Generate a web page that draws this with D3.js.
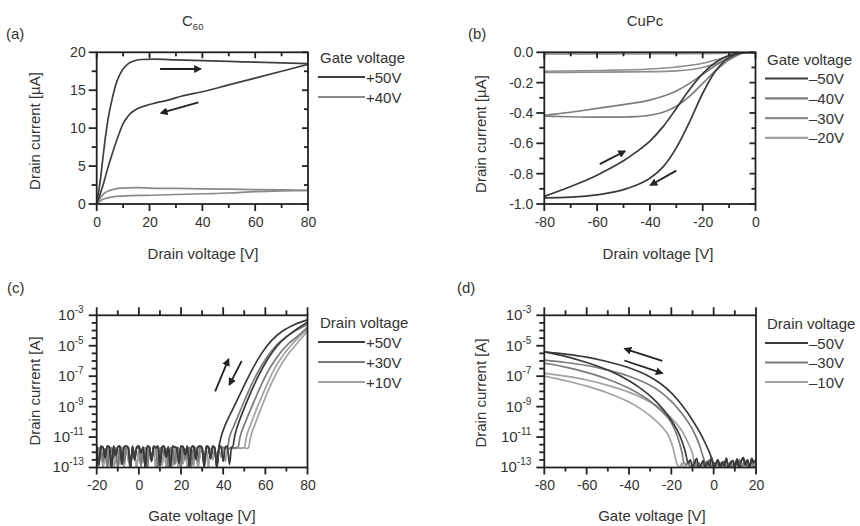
<!DOCTYPE html>
<html>
<head>
<meta charset="utf-8">
<script src="https://cdnjs.cloudflare.com/ajax/libs/d3/7.8.5/d3.min.js"></script>
<style>
  body { margin: 0; background: #fff; }
  svg text { font-family: "Liberation Sans", Arial, Helvetica, sans-serif; fill: #333; }
</style>
</head>
<body>
<svg id="chart" width="860" height="526"></svg>
<script>
// ---- (a) C60 output curves, drain current in uA vs drain voltage ----
const a50Fwd = [[0,0],[0.7,1.5],[1.5,3.5],[2.5,6.5],[3.5,9.3],[4.5,11.6],[5.5,13.3],[6.5,14.8],[7.5,16.0],[8.5,16.9],[10,17.8],[12,18.5],[14,18.85],[17,19.05],[22,19.1],[30,19.0],[40,18.9],[50,18.8],[60,18.7],[70,18.6],[80,18.5]];
const a50Rev = [[0,0],[1,1.0],[2.5,2.6],[4,4.5],[5.5,6.2],[7,7.8],[8.5,9.3],[10,10.6],[11.5,11.4],[13,12.0],[15,12.5],[18,12.9],[22,13.3],[27,13.7],[32,14.2],[40,14.8],[50,15.7],[60,16.6],[70,17.5],[80,18.4]];
const a40Fwd = [[0,0],[1,0.6],[2,1.1],[3,1.45],[5,1.8],[7,2.0],[10,2.1],[15,2.15],[20,2.1],[30,2.05],[40,2.0],[50,1.95],[60,1.9],[70,1.85],[80,1.8]];
const a40Rev = [[0,0],[1,0.3],[2,0.55],[4,0.8],[6,0.95],[10,1.05],[20,1.15],[30,1.25],[40,1.35],[50,1.45],[60,1.62],[70,1.72],[80,1.78]];
const arrowsA = [[[24,17.8],[39.3,17.8]], [[38.5,13.4],[24.4,12.0]]];

// ---- (b) CuPc output curves ----
const b50Up   = [[-80,-0.95],[-70,-0.885],[-60,-0.81],[-55,-0.765],[-50,-0.715],[-45,-0.655],[-40,-0.585],[-35,-0.49],[-30,-0.37],[-25,-0.245],[-20,-0.14],[-15,-0.065],[-10,-0.02],[-6,-0.004],[-4,0],[0,0]];
const b50Down = [[-80,-0.96],[-70,-0.955],[-60,-0.94],[-55,-0.925],[-50,-0.905],[-45,-0.875],[-40,-0.83],[-35,-0.755],[-30,-0.63],[-25,-0.46],[-20,-0.27],[-15,-0.12],[-10,-0.035],[-6,-0.006],[-4,0],[0,0]];
const b40Up   = [[-80,-0.415],[-70,-0.395],[-60,-0.37],[-50,-0.345],[-40,-0.315],[-35,-0.29],[-30,-0.255],[-25,-0.205],[-20,-0.145],[-15,-0.085],[-10,-0.035],[-6,-0.008],[-4,0],[0,0]];
const b40Down = [[-80,-0.42],[-70,-0.425],[-60,-0.427],[-50,-0.427],[-45,-0.424],[-40,-0.415],[-35,-0.395],[-30,-0.355],[-25,-0.29],[-20,-0.205],[-15,-0.12],[-10,-0.05],[-6,-0.012],[-4,0],[0,0]];
const b30Up   = [[-80,-0.125],[-60,-0.12],[-40,-0.11],[-30,-0.097],[-20,-0.072],[-15,-0.05],[-10,-0.025],[-6,-0.007],[-4,0],[0,0]];
const b30Down = [[-80,-0.132],[-60,-0.131],[-40,-0.128],[-30,-0.122],[-20,-0.1],[-15,-0.075],[-10,-0.04],[-6,-0.01],[-4,0],[0,0]];
const b20Up   = [[-80,-0.008],[-40,-0.007],[-20,-0.005],[-10,-0.003],[-4,0],[0,0]];
const b20Down = [[-80,-0.012],[-40,-0.011],[-20,-0.009],[-10,-0.005],[-4,0],[0,0]];
const arrowsB = [[[-59,-0.737],[-49.5,-0.652]], [[-30,-0.78],[-39.7,-0.875]]];

// ---- (c) C60 transfer curves, log10(A) vs gate voltage ----
// noise floors start at -20 V, one value per volt
const noiseC50 = [-11.62,-12.85,-11.6,-11.68,-12.35,-11.6,-11.64,-13.0,-11.6,-12.2,-11.66,-11.6,-12.8,-11.64,-11.6,-11.7,-13.0,-11.6,-12.5,-11.65,-11.6,-12.05,-11.66,-13.0,-11.6,-11.64,-12.6,-11.6,-11.7,-11.6,-12.9,-11.65,-11.6,-12.3,-11.64,-13.0,-11.6,-11.66,-11.7,-12.7,-11.6,-11.64,-12.15,-11.6,-13.0,-11.65,-11.6,-12.45,-11.66,-11.6,-11.7,-12.9,-11.6,-11.64,-12.4,-11.6,-11.7,-13.0,-11.65,-11.6,-12.6,-11.64,-11.6,-12.8,-11.65,-11.62];
const noiseC30 = [-12.9,-11.72,-11.7,-12.6,-11.75,-13.0,-11.7,-11.74,-12.4,-11.7,-13.0,-11.72,-11.7,-12.7,-11.75,-11.7,-13.0,-11.72,-12.3,-11.7,-11.75,-12.9,-11.7,-11.72,-13.0,-11.7,-12.5,-11.74,-11.7,-12.95,-11.72,-11.7,-12.2,-11.75,-13.0,-11.7,-11.72,-12.8,-11.7,-11.74,-13.0,-11.7,-12.45,-11.72,-11.7,-12.9,-11.75,-11.7,-12.6,-11.72,-11.7,-13.0,-11.7,-11.74,-12.35,-11.7,-11.72,-12.85,-11.7,-11.75,-11.68,-11.72,-11.7,-11.74,-11.7,-11.72,-11.7,-11.72];
const noiseC10 = [-12.95,-12.6,-11.75,-13.0,-12.2,-11.78,-12.9,-11.75,-13.0,-12.4,-11.8,-12.8,-11.75,-13.0,-11.78,-12.5,-12.95,-11.75,-12.1,-13.0,-11.8,-12.7,-11.75,-12.9,-13.0,-11.78,-12.3,-11.75,-13.0,-12.6,-11.8,-12.85,-11.75,-13.0,-12.2,-11.78,-12.9,-11.75,-12.5,-13.0,-11.8,-12.75,-11.75,-13.0,-12.4,-11.78,-12.9,-11.75,-13.0,-12.2,-11.8,-12.7,-11.75,-12.95,-11.78,-12.5,-11.75,-13.0,-11.8,-12.3,-11.75,-12.6,-11.78,-11.75,-11.8,-11.72,-11.75,-11.7,-11.74,-11.72,-11.7,-11.75,-11.72];
const c50A = [[38,-11.65],[39,-11.0],[41,-10.2],[43,-9.6],[46,-8.75],[50,-7.6],[54,-6.5],[58,-5.55],[63,-4.65],[68,-4.05],[74,-3.6],[80,-3.3]];
const c50B = [[44.5,-11.65],[45.5,-10.9],[47,-10.2],[50,-9.1],[53,-8.1],[57,-6.9],[61,-5.9],[66,-4.95],[72,-4.2],[80,-3.45]];
const c30A = [[42,-11.7],[43,-11.0],[45,-10.3],[48,-9.3],[52,-8.0],[56,-6.85],[60,-5.9],[65,-5.0],[71,-4.3],[80,-3.6]];
const c30B = [[47,-11.7],[48,-11.0],[50,-10.2],[53,-9.2],[57,-7.9],[61,-6.75],[65,-5.85],[70,-5.0],[75,-4.4],[80,-3.8]];
const c10A = [[50,-11.7],[51,-11.0],[53,-10.2],[56,-9.1],[60,-7.8],[64,-6.6],[68,-5.7],[73,-4.85],[80,-3.9]];
const c10B = [[52,-11.7],[53,-11.0],[55,-10.2],[58,-9.1],[62,-7.75],[66,-6.6],[70,-5.7],[75,-4.85],[80,-4.05]];
const arrowsC = [[[36.2,-8.0],[42.5,-5.9]], [[48.8,-6.0],[43,-7.55]]];

// ---- (d) CuPc transfer curves ----
const noiseD50 = [-12.9,-12.5,-13.0,-12.7,-12.4,-13.0,-12.8,-12.55,-13.0,-12.6,-12.9,-12.35,-13.0,-12.75,-12.5,-13.0,-12.65,-12.9,-12.4,-13.0,-12.7,-12.55,-12.95,-12.45,-13.0,-12.6,-12.35,-12.85,-12.5,-13.0,-12.4,-12.7,-12.45];
const noiseD30 = [-13.0,-12.8,-12.6,-13.0,-12.9,-12.5,-13.0,-12.7,-12.95,-12.6,-13.0,-12.85,-12.5,-13.0,-12.75,-12.9,-12.55,-13.0,-12.8,-12.6,-13.0,-12.9,-12.65,-13.0,-12.7,-12.85,-12.5,-13.0,-12.75,-12.6,-13.0,-12.9,-12.55,-13.0,-12.7];
const noiseD10 = [-13.0,-12.85,-13.0,-12.7,-13.0,-12.9,-12.75,-13.0,-12.8,-13.0,-12.65,-12.95,-13.0,-12.8,-13.0,-12.7,-12.9,-13.0,-12.75,-13.0,-12.85,-12.7,-13.0,-12.9,-13.0,-12.75,-12.95,-13.0,-12.8,-12.7,-13.0,-12.9,-13.0,-12.75,-12.85,-13.0,-12.8,-12.95,-13.0];
const noiseDStart = { d50: -12, d30: -14, d10: -18 };
const d50Out = [[-80,-5.4],[-70,-5.55],[-60,-5.75],[-50,-6.05],[-40,-6.45],[-30,-7.05],[-25,-7.5],[-20,-8.1],[-15,-8.9],[-10,-9.9],[-5,-11.1],[-2,-12.0],[0,-12.7]];
const d50In  = [[-80,-5.4],[-70,-5.7],[-60,-6.1],[-50,-6.6],[-40,-7.3],[-35,-7.75],[-30,-8.3],[-25,-9.0],[-20,-9.9],[-16,-10.9],[-13.5,-11.9],[-12,-12.7]];
const d30Out = [[-80,-5.95],[-70,-6.1],[-60,-6.3],[-50,-6.6],[-40,-7.0],[-30,-7.6],[-25,-8.05],[-20,-8.65],[-15,-9.45],[-10,-10.5],[-6.5,-11.6],[-5,-12.3],[-4,-12.7]];
const d30In  = [[-80,-6.15],[-70,-6.4],[-60,-6.75],[-50,-7.2],[-40,-7.8],[-30,-8.65],[-25,-9.25],[-20,-10.05],[-17,-11.0],[-15,-12.0],[-14,-12.7]];
const d10Out = [[-80,-6.8],[-70,-7.0],[-60,-7.25],[-50,-7.6],[-40,-8.05],[-30,-8.7],[-25,-9.15],[-20,-9.75],[-15,-10.6],[-12,-11.4],[-10,-12.1],[-9,-12.7]];
const d10In  = [[-80,-7.0],[-70,-7.3],[-60,-7.65],[-50,-8.1],[-40,-8.7],[-35,-9.1],[-30,-9.6],[-25,-10.25],[-21,-11.0],[-19,-11.8],[-17.5,-12.7]];
const arrowsD = [[[-24.3,-6.0],[-41.9,-5.2]], [[-42.2,-5.97],[-24.3,-6.8]]];

// ---- tick values and legend labels ----
const ticksA = { xMajor: [0,20,40,60,80], xMinor: [10,30,50,70], yMajor: [0,5,10,15,20], yMinor: [2.5,7.5,12.5,17.5] };
const ticksB = { xMajor: [-80,-60,-40,-20,0], xMinor: [-70,-50,-30,-10], yMajor: [0,-0.2,-0.4,-0.6,-0.8,-1.0], yMinor: [-0.1,-0.3,-0.5,-0.7,-0.9] };
const ticksC = { xMajor: [-20,0,20,40,60,80], xMinor: [-10,10,30,50,70] };
const ticksD = { xMajor: [-80,-60,-40,-20,0,20], xMinor: [-70,-50,-30,-10,10] };
const logMajor = [-13,-11,-9,-7,-5,-3];
const logMinor = [-12.5,-12,-11.5,-10.5,-10,-9.5,-8.5,-8,-7.5,-6.5,-6,-5.5,-4.5,-4,-3.5];
const legendA = ['+50V','+40V'];
const legendB = ['\u201350V','\u201340V','\u201330V','\u201320V'];
const legendC = ['+50V','+30V','+10V'];
const legendD = ['\u201350V','\u201330V','\u201310V'];

const DARK = '#3a3a3a', MID = '#7b7b7b', LIGHT = '#a2a2a2';
const FRAME = '#222';

const svg = d3.select('#chart');
const defs = svg.append('defs');
defs.append('marker')
  .attr('id', 'arrowhead')
  .attr('viewBox', '0 0 10 10')
  .attr('refX', 8).attr('refY', 5)
  .attr('markerWidth', 4.4).attr('markerHeight', 4.4)
  .attr('orient', 'auto')
  .append('path').attr('d', 'M0,0L10,5L0,10z').attr('fill', '#222');

// join a noise floor (one value per volt) with a rising or falling branch
function withNoise(noise, start, branch, side) {
  const pts = noise.map((v, i) => [start + i, v]);
  if (side === 'before') {
    return pts.filter(d => d[0] < branch[0][0]).concat(branch);
  }
  return branch.concat(pts.filter(d => d[0] > branch[branch.length - 1][0]));
}

function drawPanel(p) {
  const g = svg.append('g').attr('class', 'panel-' + p.id);
  const x = d3.scaleLinear().domain(p.xDomain).range([p.left, p.right]);
  const y = (p.log ? d3.scaleLog() : d3.scaleLinear()).domain(p.yDomain).range([p.bottom, p.top]);
  const yv = v => p.log ? y(Math.pow(10, v)) : y(v);

  defs.append('clipPath').attr('id', 'clip-' + p.id)
    .append('rect').attr('x', p.left).attr('y', p.top)
    .attr('width', p.right - p.left).attr('height', p.bottom - p.top);

  const line = d3.line().x(d => x(d[0])).y(d => yv(d[1])).curve(d3.curveMonotoneX);
  const plot = g.append('g').attr('clip-path', `url(#clip-${p.id})`);
  p.series.forEach(s => {
    plot.append('path')
      .datum(s.data)
      .attr('d', line)
      .attr('fill', 'none')
      .attr('stroke', s.color)
      .attr('stroke-width', 1.7)
      .attr('stroke-linejoin', 'round');
  });

  // arrows
  p.arrows.forEach(a => {
    g.append('line')
      .attr('x1', x(a[0][0])).attr('y1', yv(a[0][1]))
      .attr('x2', x(a[1][0])).attr('y2', yv(a[1][1]))
      .attr('stroke', '#222').attr('stroke-width', 1.8)
      .attr('marker-end', 'url(#arrowhead)');
  });

  const xMajor = p.xMajor, xMinor = p.xMinor;
  const yMajor = p.log ? logMajor.map(e => Math.pow(10, e)) : p.yMajor;
  const yMinor = p.log ? logMinor.map(e => Math.pow(10, e)) : p.yMinor;

  // tick labels via d3 axes
  const addAxis = (gen, tr) => g.append('g')
    .attr('transform', tr)
    .call(gen)
    .attr('font-size', 14)
    .attr('font-family', null)
    .call(a => a.select('.domain').remove());

  addAxis(d3.axisBottom(x).tickValues(xMajor).tickSize(0).tickPadding(13).tickFormat(d => String(d)), `translate(0,${p.bottom})`);
  const leftAxis = addAxis(d3.axisLeft(y).tickValues(yMajor).tickSize(0).tickPadding(p.log ? 13 : 11)
    .tickFormat(p.log ? () => '' : p.yFormat), `translate(${p.left},0)`);
  if (p.log) {
    leftAxis.selectAll('.tick text').each(function(d) {
      const t = d3.select(this);
      t.append('tspan').attr('font-size', 15).text('10');
      t.append('tspan').attr('dy', -7).attr('font-size', 10).text(String(Math.round(Math.log10(d))));
    });
  }

  // frame
  g.append('rect')
    .attr('x', p.left).attr('y', p.top)
    .attr('width', p.right - p.left).attr('height', p.bottom - p.top)
    .attr('fill', 'none').attr('stroke', FRAME).attr('stroke-width', 1.8);

  // tick marks as small filled bars; positive length points down / right
  const TW = 1.8;
  const marks = g.append('g').attr('class', 'tick-marks').attr('fill', FRAME);
  function xMarks(vals, pos, len) {
    vals.forEach(d => marks.append('rect')
      .attr('x', x(d) - TW / 2).attr('width', TW)
      .attr('y', Math.min(pos, pos + len)).attr('height', Math.abs(len)));
  }
  function yMarks(vals, pos, len) {
    vals.forEach(d => marks.append('rect')
      .attr('y', y(d) - TW / 2).attr('height', TW)
      .attr('x', Math.min(pos, pos + len)).attr('width', Math.abs(len)));
  }
  xMarks(xMajor, p.bottom, 7);
  xMarks(xMinor, p.bottom, 4);
  yMarks(yMajor, p.left, -8);
  yMarks(yMinor, p.left, -5);
  if (p.log) {
    xMarks(xMajor, p.top, -8);
    xMarks(xMinor, p.top, -5);
  } else {
    xMarks(xMajor, p.top, 6);
    xMarks(xMinor, p.top, 4);
    yMarks(yMajor, p.right, -6);
    yMarks(yMinor, p.right, -4);
  }

  // axis titles
  g.append('text')
    .attr('x', p.xTitle[0]).attr('y', p.xTitle[1])
    .attr('text-anchor', 'middle').attr('font-size', 15)
    .text(p.xLabel);
  g.append('text')
    .attr('transform', `translate(${p.yTitle[0]},${p.yTitle[1]}) rotate(-90)`)
    .attr('text-anchor', 'middle').attr('font-size', 15)
    .text(p.yLabel);

  // panel letter
  g.append('text').attr('x', p.letter[0]).attr('y', p.letter[1]).attr('font-size', 15).text(p.letter[2]);

  // legend
  const lg = p.legend;
  g.append('text').attr('x', lg.x + 2).attr('y', lg.y0 - 14).attr('font-size', 15).text(lg.title);
  lg.labels.forEach((lab, i) => {
    const yy = lg.y0 + i * lg.dy;
    g.append('line')
      .attr('x1', lg.x).attr('x2', lg.x + lg.len)
      .attr('y1', yy).attr('y2', yy)
      .attr('stroke', lg.colors[i]).attr('stroke-width', 2.2);
    g.append('text').attr('x', lg.x + lg.len + 1).attr('y', yy + 5.5).attr('font-size', 15).text(lab);
  });
}

// ---- panel (a) ----
drawPanel({
  id: 'a', left: 96.7, right: 308, top: 52.3, bottom: 204,
  xDomain: [0, 80], yDomain: [0, 20], log: false,
  xMajor: ticksA.xMajor, xMinor: ticksA.xMinor, yMajor: ticksA.yMajor, yMinor: ticksA.yMinor,
  yFormat: d => String(d),
  series: [
    { data: a40Fwd, color: '#8a8a8a' }, { data: a40Rev, color: '#8a8a8a' },
    { data: a50Fwd, color: '#3f3f3f' }, { data: a50Rev, color: '#3f3f3f' }
  ],
  arrows: arrowsA,
  xLabel: 'Drain voltage [V]', xTitle: [203, 259],
  yLabel: 'Drain current [\u00b5A]', yTitle: [40, 131],
  letter: [6, 39, '(a)'],
  legend: { title: 'Gate voltage', x: 318, y0: 77, dy: 20, len: 47, labels: legendA, colors: ['#3f3f3f', '#8a8a8a'] }
});

// ---- panel (b) ----
drawPanel({
  id: 'b', left: 544.3, right: 755.5, top: 52.3, bottom: 204,
  xDomain: [-80, 0], yDomain: [-1, 0], log: false,
  xMajor: ticksB.xMajor, xMinor: ticksB.xMinor, yMajor: ticksB.yMajor, yMinor: ticksB.yMinor,
  yFormat: d => d.toFixed(1),
  series: [
    { data: b20Up, color: '#a0a0a0' }, { data: b20Down, color: '#a0a0a0' },
    { data: b30Up, color: '#8e8e8e' }, { data: b30Down, color: '#8e8e8e' },
    { data: b40Up, color: '#7c7c7c' }, { data: b40Down, color: '#7c7c7c' },
    { data: b50Up, color: DARK }, { data: b50Down, color: DARK }
  ],
  arrows: arrowsB,
  xLabel: 'Drain voltage [V]', xTitle: [658, 259],
  yLabel: 'Drain current [\u00b5A]', yTitle: [486, 134],
  letter: [468, 39, '(b)'],
  legend: { title: 'Gate voltage', x: 765, y0: 78.5, dy: 19.8, len: 43, labels: legendB, colors: [DARK, '#7c7c7c', '#8e8e8e', '#a0a0a0'] }
});

// ---- panel (c) ----
drawPanel({
  id: 'c', left: 96.7, right: 307.5, top: 315.3, bottom: 467.5,
  xDomain: [-20, 80], yDomain: [1e-13, 1e-3], log: true,
  xMajor: ticksC.xMajor, xMinor: ticksC.xMinor,
  series: [
    { data: withNoise(noiseC10, -20, c10A, 'before'), color: LIGHT },
    { data: withNoise(noiseC10, -20, c10B, 'before'), color: LIGHT },
    { data: withNoise(noiseC30, -20, c30A, 'before'), color: MID },
    { data: withNoise(noiseC30, -20, c30B, 'before'), color: MID },
    { data: withNoise(noiseC50, -20, c50B, 'before'), color: DARK },
    { data: withNoise(noiseC50, -20, c50A, 'before'), color: DARK }
  ],
  arrows: arrowsC,
  xLabel: 'Gate voltage [V]', xTitle: [202, 521],
  yLabel: 'Drain current [A]', yTitle: [40, 391],
  letter: [7, 293, '(c)'],
  legend: { title: 'Drain voltage', x: 318, y0: 342, dy: 20, len: 47, labels: legendC, colors: [DARK, MID, LIGHT] }
});

// ---- panel (d) ----
drawPanel({
  id: 'd', left: 544.3, right: 756, top: 315.3, bottom: 467.5,
  xDomain: [-80, 20], yDomain: [1e-13, 1e-3], log: true,
  xMajor: ticksD.xMajor, xMinor: ticksD.xMinor,
  series: [
    { data: withNoise(noiseD10, noiseDStart.d10, d10In, 'after'), color: LIGHT },
    { data: withNoise(noiseD10, noiseDStart.d10, d10Out, 'after'), color: LIGHT },
    { data: withNoise(noiseD30, noiseDStart.d30, d30In, 'after'), color: MID },
    { data: withNoise(noiseD30, noiseDStart.d30, d30Out, 'after'), color: MID },
    { data: withNoise(noiseD50, noiseDStart.d50, d50In, 'after'), color: DARK },
    { data: withNoise(noiseD50, noiseDStart.d50, d50Out, 'after'), color: DARK }
  ],
  arrows: arrowsD,
  xLabel: 'Gate voltage [V]', xTitle: [652, 521],
  yLabel: 'Drain current [A]', yTitle: [486, 393],
  letter: [457, 293, '(d)'],
  legend: { title: 'Drain voltage', x: 765, y0: 343, dy: 19.5, len: 43, labels: legendD, colors: [DARK, MID, LIGHT] }
});

// ---- column titles ----
const t60 = svg.append('text').attr('x', 182).attr('y', 26).attr('font-size', 15);
t60.append('tspan').text('C');
t60.append('tspan').attr('font-size', 9.5).attr('dy', 4).text('60');
svg.append('text').attr('x', 645).attr('y', 26).attr('text-anchor', 'middle').attr('font-size', 15).text('CuPc');
</script>
</body>
</html>
